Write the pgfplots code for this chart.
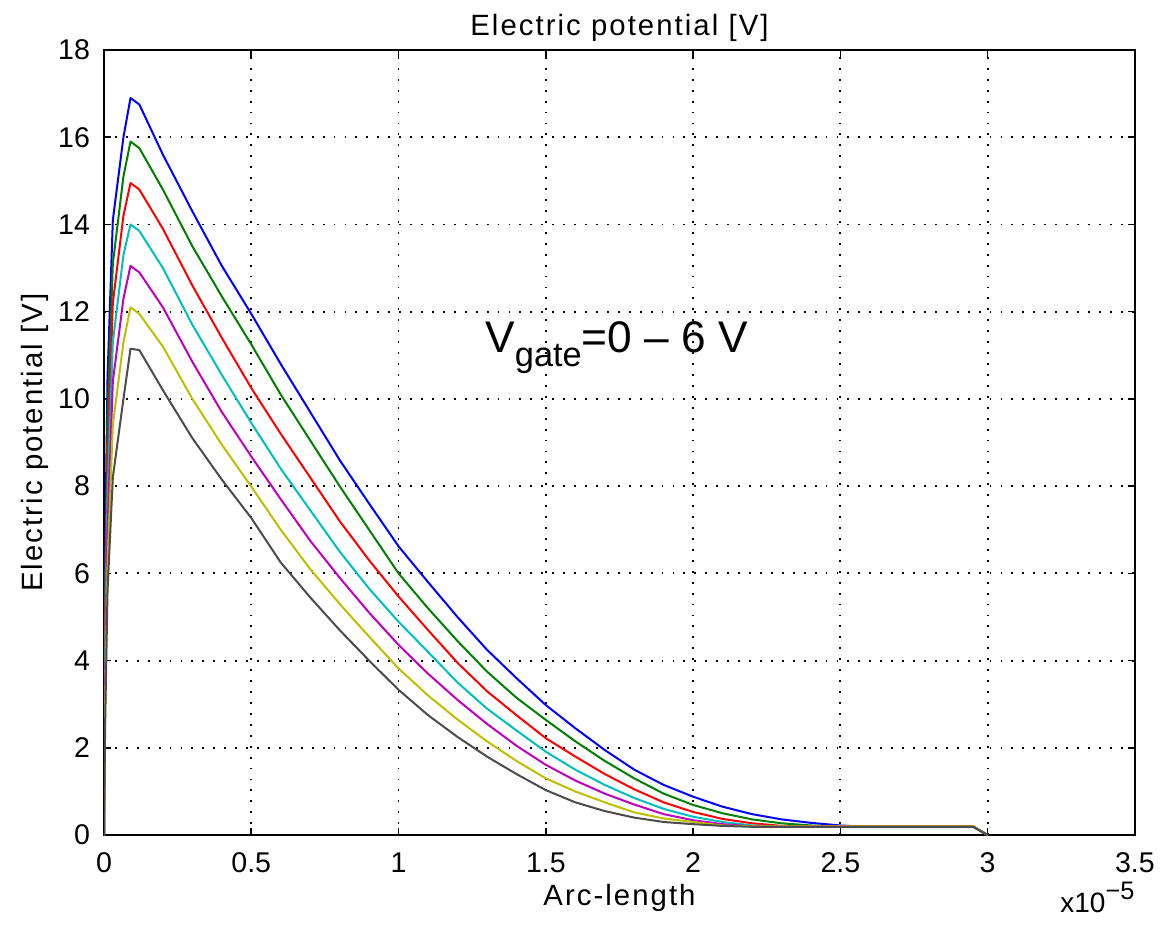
\documentclass[border=0pt]{standalone}
\usepackage{pgfplots}
\pgfplotsset{compat=1.18}
\usepackage{fontspec}
\setmainfont{Liberation Sans}
\newfontfamily\lblfont[LetterSpace=7]{Liberation Sans}
\definecolor{mb}{rgb}{0,0,1}
\definecolor{mg}{rgb}{0,0.5,0}
\definecolor{mr}{rgb}{1,0,0}
\definecolor{mc}{rgb}{0,0.75,0.75}
\definecolor{mm}{rgb}{0.75,0,0.75}
\definecolor{my}{rgb}{0.75,0.75,0}
\definecolor{mk}{rgb}{0.3,0.3,0.3}
\begin{document}
\begin{tikzpicture}
\begin{axis}[
  scale only axis,
  width=386.6pt, height=294.4pt,
  xmin=0, xmax=3.5, ymin=0, ymax=18,
  xtick={0,0.5,...,3.5}, ytick={0,2,...,18},
  xticklabels={0,0.5,1,1.5,2,2.5,3,3.5},
  /pgf/number format/assume math mode=true,
  tick label style={font=\fontsize{10.7}{12}\selectfont},
  xticklabel style={yshift=-3pt},
  yticklabel style={xshift=-1.75pt},
  tick align=inside,
  major tick length=2.5pt,
  tick style={black, line width=0.6pt},
  axis line style={line width=0.75pt},
  grid=major,
  grid style={black, line width=0.7pt, dash pattern=on 0.7pt off 3.4pt},
  every axis plot/.append style={line width=0.75pt, line join=round},
  clip=true,
]
\addplot[mb] coordinates {(0,0) (0.004,6.5) (0.012,10.5) (0.03,14.1) (0.066,16.0) (0.09,16.9) (0.12,16.75) (0.2,15.6) (0.3,14.3) (0.4,13.05) (0.5,11.95) (0.6,10.8) (0.7,9.7) (0.8,8.6) (0.9,7.6) (1.0,6.62) (1.1,5.8) (1.2,5.0) (1.3,4.25) (1.4,3.6) (1.5,2.98) (1.6,2.45) (1.7,1.95) (1.8,1.5) (1.9,1.15) (2.0,0.88) (2.1,0.65) (2.2,0.48) (2.3,0.36) (2.4,0.28) (2.5,0.22) (2.56,0.2) (2.95,0.2) (3.0,0)};
\addplot[mg] coordinates {(0,0) (0.004,5.5) (0.012,9.5) (0.03,13.1) (0.066,15.1) (0.09,15.9) (0.12,15.75) (0.2,14.8) (0.3,13.5) (0.4,12.35) (0.5,11.25) (0.6,10.1) (0.7,9.05) (0.8,8.0) (0.9,7.0) (1.0,6.0) (1.1,5.2) (1.2,4.45) (1.3,3.75) (1.4,3.15) (1.5,2.64) (1.6,2.15) (1.7,1.7) (1.8,1.3) (1.9,0.95) (2.0,0.69) (2.1,0.5) (2.2,0.36) (2.3,0.27) (2.4,0.22) (2.5,0.2) (2.95,0.2) (3.0,0)};
\addplot[mr] coordinates {(0,0) (0.004,4.8) (0.012,8.5) (0.03,12.2) (0.066,14.2) (0.09,14.95) (0.12,14.8) (0.2,13.9) (0.3,12.6) (0.4,11.4) (0.5,10.25) (0.6,9.2) (0.7,8.2) (0.8,7.2) (0.9,6.3) (1.0,5.47) (1.1,4.7) (1.2,3.95) (1.3,3.3) (1.4,2.75) (1.5,2.22) (1.6,1.8) (1.7,1.4) (1.8,1.05) (1.9,0.75) (2.0,0.53) (2.1,0.37) (2.2,0.27) (2.3,0.21) (2.4,0.2) (2.95,0.2) (3.0,0)};
\addplot[mc] coordinates {(0,0) (0.004,4.2) (0.012,7.8) (0.03,11.3) (0.066,13.3) (0.09,14.0) (0.12,13.85) (0.2,13.0) (0.3,11.7) (0.4,10.55) (0.5,9.45) (0.6,8.4) (0.7,7.45) (0.8,6.5) (0.9,5.65) (1.0,4.89) (1.1,4.2) (1.2,3.5) (1.3,2.9) (1.4,2.4) (1.5,1.91) (1.6,1.5) (1.7,1.15) (1.8,0.85) (1.9,0.6) (2.0,0.42) (2.1,0.3) (2.2,0.22) (2.3,0.2) (2.95,0.2) (3.0,0)};
\addplot[mm] coordinates {(0,0) (0.004,3.6) (0.012,7.0) (0.03,10.4) (0.066,12.3) (0.09,13.05) (0.12,12.9) (0.2,12.1) (0.3,10.85) (0.4,9.7) (0.5,8.68) (0.6,7.7) (0.7,6.75) (0.8,5.9) (0.9,5.1) (1.0,4.36) (1.1,3.7) (1.2,3.1) (1.3,2.55) (1.4,2.05) (1.5,1.61) (1.6,1.25) (1.7,0.95) (1.8,0.7) (1.9,0.48) (2.0,0.34) (2.1,0.25) (2.2,0.2) (2.95,0.2) (3.0,0)};
\addplot[my] coordinates {(0,0) (0.004,3.0) (0.012,6.2) (0.03,9.4) (0.066,11.3) (0.09,12.1) (0.12,11.95) (0.2,11.2) (0.3,10.0) (0.4,8.95) (0.5,7.99) (0.6,7.0) (0.7,6.1) (0.8,5.3) (0.9,4.55) (1.0,3.82) (1.1,3.2) (1.2,2.65) (1.3,2.15) (1.4,1.7) (1.5,1.3) (1.6,1.0) (1.7,0.75) (1.8,0.52) (1.9,0.38) (2.0,0.3) (2.1,0.22) (2.2,0.2) (2.95,0.2) (3.0,0)};
\addplot[mk] coordinates {(0,0) (0.004,2.6) (0.012,5.6) (0.03,8.2) (0.066,10.0) (0.09,11.15) (0.12,11.12) (0.2,10.2) (0.3,9.1) (0.4,8.15) (0.5,7.27) (0.6,6.25) (0.7,5.45) (0.8,4.7) (0.9,4.0) (1.0,3.33) (1.1,2.75) (1.2,2.25) (1.3,1.8) (1.4,1.4) (1.5,1.03) (1.6,0.75) (1.7,0.55) (1.8,0.4) (1.9,0.3) (2.0,0.25) (2.1,0.21) (2.2,0.19) (2.95,0.19) (3.0,0)};
\coordinate (SW) at (rel axis cs:0,0);
\coordinate (NE) at (rel axis cs:1,1);
\node[anchor=base west, inner sep=0pt, font=\fontsize{16.6}{18}\selectfont] at (axis cs:1.293,11.06) {V\raisebox{-5pt}{\fontsize{12.9}{14}\selectfont gate}=0 – 6 V};
\end{axis}
\path (SW) -- (NE) coordinate[pos=0.5] (C);
\node[anchor=base, inner sep=0pt, font=\lblfont\fontsize{11}{12}\selectfont] at ([yshift=5.5pt]C |- NE) {Electric potential [V]};
\node[anchor=base, inner sep=0pt, font=\lblfont\fontsize{11}{12}\selectfont] at ([yshift=-26.3pt]C |- SW) {Arc-length};
\node[anchor=base east, inner sep=0pt, font=\fontsize{10.5}{12}\selectfont] at ([yshift=-29.2pt]NE |- SW) {x10\raisebox{5.2pt}{\fontsize{9.5}{11}\selectfont −5}};
\node[rotate=90, anchor=base, inner sep=0pt, font=\lblfont\fontsize{11}{12}\selectfont] at ([xshift=-22.9pt]SW |- C) {Electric potential [V]};
\pgfresetboundingbox
\path ([shift={(-39pt,-33.75pt)}]SW) rectangle ([shift={(9.4pt,18.75pt)}]NE);
\end{tikzpicture}
\end{document}
